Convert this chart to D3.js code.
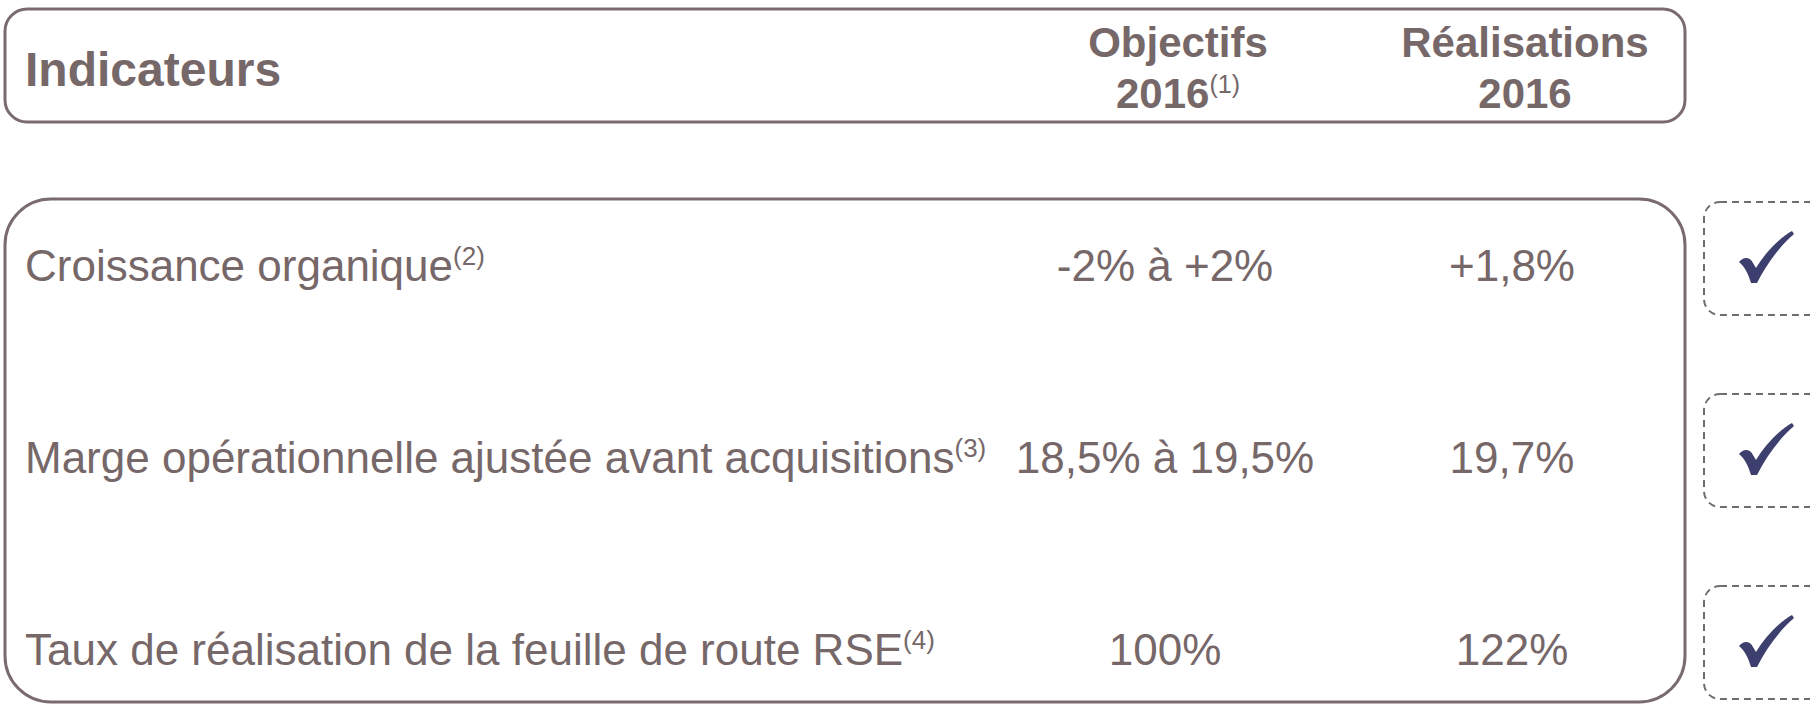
<!DOCTYPE html>
<html>
<head>
<meta charset="utf-8">
<script src="https://cdn.jsdelivr.net/npm/d3@7"></script>
<style>
  body { margin: 0; background: #fff; }
  svg { display: block; font-family: "Liberation Sans", Arial, sans-serif; }
</style>
</head>
<body>
<svg id="viz"></svg>
<script>
var indicators = ["Croissance organique", "Marge opérationnelle ajustée avant acquisitions", "Taux de réalisation de la feuille de route RSE"];
var notes = ["(2)", "(3)", "(4)"];
var objectives = ["-2% à +2%", "18,5% à 19,5%", "100%"];
var results = ["+1,8%", "19,7%", "122%"];
var achieved = [true, true, true];

var headers = [
  {lines: [["Indicateurs", ""]], col: "label", size: 48},
  {lines: [["Objectifs", ""], ["2016", "(1)"]], col: "obj", size: 42},
  {lines: [["Réalisations", ""], ["2016", ""]], col: "res", size: 42}
];

var width = 1810, height = 704;
var textColor = "#766769", borderColor = "#7a6b6e";

var svg = d3.select("#viz").attr("width", width).attr("height", height);

var x = d3.scaleOrdinal().domain(["label", "obj", "res", "check"]).range([25, 1165, 1512, 1757]);
var y = d3.scalePoint().domain(indicators).range([265, 649]);
var headX = d3.scaleOrdinal().domain(["label", "obj", "res"]).range([25, 1178, 1525]);

// header box
svg.append("rect")
  .attr("x", 5).attr("y", 9).attr("width", 1680).attr("height", 113)
  .attr("rx", 22).attr("ry", 22)
  .attr("fill", "#fff").attr("stroke", borderColor).attr("stroke-width", 3);

// body box
svg.append("rect")
  .attr("x", 5).attr("y", 199).attr("width", 1680).attr("height", 503)
  .attr("rx", 46).attr("ry", 46)
  .attr("fill", "#fff").attr("stroke", borderColor).attr("stroke-width", 3);

headers.forEach(function(h) {
  var t = svg.append("text")
    .attr("fill", textColor)
    .attr("font-weight", "bold")
    .attr("font-size", h.size)
    .attr("text-anchor", h.col == "label" ? "start" : "middle");
  var y0 = h.lines.length == 1 ? 86 : 57;
  h.lines.forEach(function(l, i) {
    t.append("tspan")
      .attr("x", headX(h.col))
      .attr("y", y0 + i * 51)
      .text(l[0]);
    if (l[1]) {
      t.append("tspan").attr("font-weight", "normal").attr("font-size", 25)
        .attr("dy", -15).text(l[1]);
    }
  });
});

var rows = svg.append("g").selectAll("g")
  .data(indicators.map(function(d, i) {
    return {label: d, note: notes[i], obj: objectives[i], res: results[i], ok: achieved[i]};
  }))
  .enter().append("g")
  .attr("transform", function(d) { return "translate(0," + y(d.label) + ")"; });

var lab = rows.append("text")
  .attr("x", x("label")).attr("y", 16)
  .attr("fill", textColor).attr("font-size", 44);
lab.append("tspan").text(function(d) { return d.label; });
lab.append("tspan").attr("font-size", 26).attr("dy", -16).text(function(d) { return d.note; });

rows.append("text")
  .attr("x", x("obj")).attr("y", 16)
  .attr("text-anchor", "middle")
  .attr("fill", textColor).attr("font-size", 44)
  .text(function(d) { return d.obj; });

rows.append("text")
  .attr("x", x("res")).attr("y", 16)
  .attr("text-anchor", "middle")
  .attr("fill", textColor).attr("font-size", 44)
  .text(function(d) { return d.res; });

// check boxes
var chk = rows.filter(function(d) { return d.ok; })
  .append("g")
  .attr("transform", "translate(" + x("check") + ",0)");

chk.append("rect")
  .attr("x", -53).attr("y", -63).attr("width", 120).attr("height", 113)
  .attr("rx", 16).attr("ry", 16)
  .attr("fill", "none").attr("stroke", "#6e6e6e")
  .attr("stroke-width", 2).attr("stroke-dasharray", "7,5");

chk.append("path")
  .attr("fill", "#3d3f6e")
  .attr("d", "M-18,-3 C-13,-9 -7,-8 -4,-2 L-1,3 C8,-12 22,-27 35,-34 L37,-31 " +
             "C22,-18 9,0 0,18 L-6,18 C-9,8 -13,1 -18,-3 Z");
</script>
</body>
</html>
